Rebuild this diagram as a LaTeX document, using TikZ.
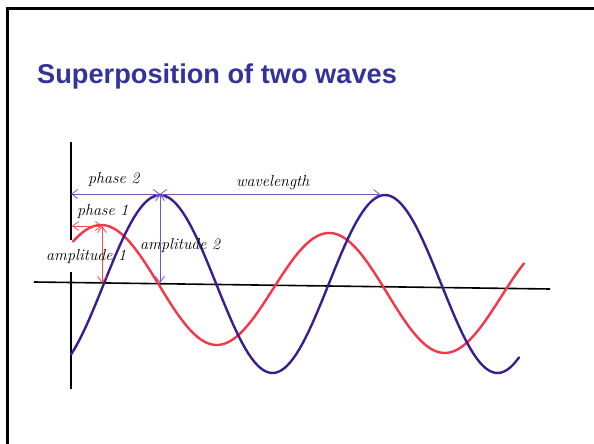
\documentclass[tikz,border=0pt]{standalone}
\usepackage{fontspec}
\newfontfamily\slidefont{Liberation Sans}
\usetikzlibrary{arrows.meta}
\definecolor{slideblue}{HTML}{333399}
\definecolor{wvpurple}{HTML}{3A1E8C}
\definecolor{wvred}{HTML}{F5364A}
\definecolor{dimpurple}{HTML}{7B52C6}
\definecolor{dimred}{HTML}{FF4848}
\tikzset{
  frame/.style={line width=3pt, black},
  axisline/.style={line width=1.6pt, black},
  wave/.style={line width=2.4pt, line cap=round},
  lbl/.style={font=\fontsize{16}{18}\selectfont\itshape, inner sep=0pt, anchor=base west},
  dim/.style={{Straight Barb[length=6pt,width=9pt]}-{Straight Barb[length=6pt,width=9pt]},
    line width=0.8pt},
}

\begin{document}
\begin{tikzpicture}[x=1pt, y=-1pt]
  \useasboundingbox (0,0) rectangle (594,444);
  % slide frame and title
  \draw[frame] (7,444) -- (7,9) -- (594,9);
  \node[font=\slidefont\bfseries\fontsize{27.2}{32}\selectfont, text=slideblue,
    anchor=base west, inner sep=0pt] (title) at (37,83) {Superposition of two waves};

  % axes
  \coordinate (xleft)  at (34,282);
  \coordinate (xright) at (550,289);
  \draw[axisline] (xleft) -- (xright);
  \draw[axisline] (71,142) -- (71,240);
  \draw[axisline] (71,272) -- (71,389);

  % the two waves (wavelengths 228 and 225)
  \draw[wave, wvred] plot[domain=73:524, samples=150]
    (\x, {283 + 0.035*(\x-102) - 58*cos(1.5789*(\x-102))});
  \draw[wave, wvpurple] plot[domain=71:519, samples=150]
    (\x, {284 - 89*cos(1.6*(\x-160))});

  % dimension arrows
  \coordinate (axisb) at (71,194);
  \coordinate (peakb) at (160,194);
  \coordinate (peakbb) at (380,194);
  \coordinate (baseb) at (160,283);
  \coordinate (axisa) at (72,226);
  \coordinate (peaka) at (102,226);
  \coordinate (basea) at (102,283);
  \draw[dim, dimpurple] (axisb) -- (peakb);
  \draw[dim, dimpurple] (peakb) -- (peakbb);
  \draw[dim, dimpurple] (peakb) -- (baseb);
  \draw[dim, dimred] (axisa) -- (peaka);
  \draw[dim, dimred] (peaka) -- (basea);

  % labels
  \node[lbl] (phaseb) at (88,183) {phase 2};
  \node[lbl] (wavelen) at (236,186) {wavelength};
  \node[lbl] (phasea) at (77,215) {phase 1};
  \node[lbl] (ampa) at (46,260) {amplitude 1};
  \node[lbl] (ampb) at (140,249) {amplitude 2};
\end{tikzpicture}
\end{document}
